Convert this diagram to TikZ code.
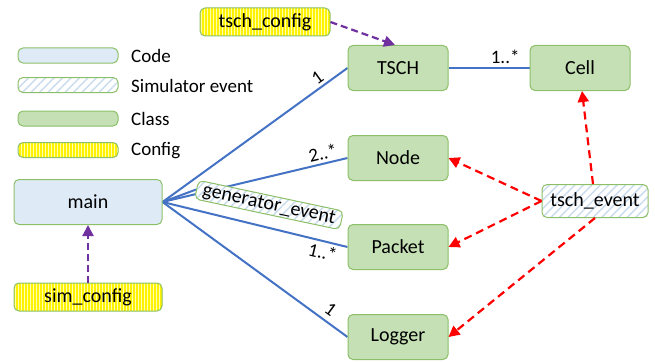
\documentclass[tikz,border=0pt]{standalone}
\usepackage{fontspec}
\setmainfont{Carlito}
\usetikzlibrary{arrows.meta,patterns.meta,backgrounds}

\definecolor{boxgreen}{HTML}{8CC068}
\definecolor{classfill}{HTML}{C5E0B4}
\definecolor{codefill}{HTML}{DEEBF7}
\definecolor{hatchblue}{HTML}{C9DCEF}
\definecolor{stripe}{HTML}{FFFFB0}
\definecolor{assocblue}{HTML}{4472C4}
\definecolor{cfgpurple}{HTML}{7030A0}
\definecolor{evred}{HTML}{FF0000}

\tikzset{
	box/.style={draw=boxgreen, line width=1pt, rounded corners=5pt, inner sep=0pt, font=\fontsize{20}{22}\selectfont},
	classbox/.style={box, fill=classfill, minimum width=100pt, minimum height=45pt},
	codebox/.style={box, fill=codefill},
	eventbox/.style={box, preaction={fill=white}, pattern={Lines[angle=45,distance=6pt,line width=1.4pt]}, pattern color=hatchblue},
	configbox/.style={box, preaction={fill=yellow}, pattern={Lines[angle=90,distance=3pt,line width=1pt]}, pattern color=stripe},
	assoc/.style={draw=assocblue, line width=2pt},
	mult/.style={font=\fontsize{19}{20}\selectfont, inner sep=0pt},
	cfgarrow/.style={draw=cfgpurple, line width=2.2pt, dash pattern=on 7pt off 4pt, -{Triangle[length=11pt,width=11pt]}},
	evarrow/.style={draw=evred, line width=2.2pt, dash pattern=on 8pt off 5pt, -{Triangle[length=11pt,width=11pt]}},
	legtext/.style={anchor=west, font=\fontsize{19}{20}\selectfont, inner sep=0pt}
}

\begin{document}
\begin{tikzpicture}[x=1pt, y=-1pt]
	\useasboundingbox (0,0) rectangle (655,361);

	% المفتاح
	\node[codebox, minimum width=100pt, minimum height=15pt] (keycode) at (68,55.5) {};
	\node[eventbox, minimum width=100pt, minimum height=15pt] (keyevent) at (68,85) {};
	\node[classbox, minimum height=15pt] (keyclass) at (68,118.5) {};
	\node[configbox, minimum width=100pt, minimum height=15pt] (keyconfig) at (68,150) {};
	\node[legtext] (txtcode) at (131,56) {Code};
	\node[legtext] (txtevent) at (131,86) {Simulator event};
	\node[legtext] (txtclass) at (131,119) {Class};
	\node[legtext] (txtconfig) at (131,151) {Config};

	% الأصناف
	\node[classbox] (tsch) at (398,68) {TSCH};
	\node[classbox] (cell) at (580,68) {Cell};
	\node[classbox] (node) at (398,158) {Node};
	\node[classbox] (packet) at (398,247) {Packet};
	\node[classbox] (logger) at (398,337) {Logger};

	% البرنامج والإعدادات والأحداث
	\node[codebox, minimum width=148pt, minimum height=45pt] (main) at (88,202) {main};
	\node[configbox, minimum width=148pt, minimum height=28pt] (simcfg) at (88,297) {sim\_config};
	\node[configbox, minimum width=130pt, minimum height=28pt] (tschcfg) at (265,22) {tsch\_config};
	\node[eventbox, minimum width=106pt, minimum height=33pt] (tschev) at (595,201) {tsch\_event};
	\node[eventbox, rotate=-12, minimum width=148pt, minimum height=19pt] (genev) at (269,205) {generator\_event};

	% العلاقات
	\begin{scope}[on background layer]
		\draw[assoc] (tsch.east) -- (cell.west) node[mult, pos=0.7, above=3pt] {1..*};
		\draw[assoc] (main.east) -- (tsch.west) node[mult, pos=0.87, above=3pt, sloped] {1};
		\draw[assoc] (main.east) -- (node.west) node[mult, pos=0.88, above=3pt, sloped] {2..*};
		\draw[assoc] (main.east) -- (genev.west);
		\draw[assoc] (main.east) -- (packet.west) node[mult, pos=0.88, below=3pt, sloped] {1..*};
		\draw[assoc] (main.east) -- (logger.west) node[mult, pos=0.87, above=5pt, sloped] {1};
	\end{scope}

	% الأسهم المتقطعة
	\draw[cfgarrow] (tschcfg.east) -- ([xshift=-3pt]tsch.north);
	\draw[cfgarrow] (simcfg.north) -- (main.south);
	\draw[evarrow] (tschev.west) -- (node.east);
	\draw[evarrow] (tschev.west) -- (packet.east);
	\draw[evarrow] ([xshift=-2pt]tschev.north) -- ([xshift=2pt]cell.south);
	\draw[evarrow] (tschev.south) -- (logger.east);

\end{tikzpicture}
\end{document}
